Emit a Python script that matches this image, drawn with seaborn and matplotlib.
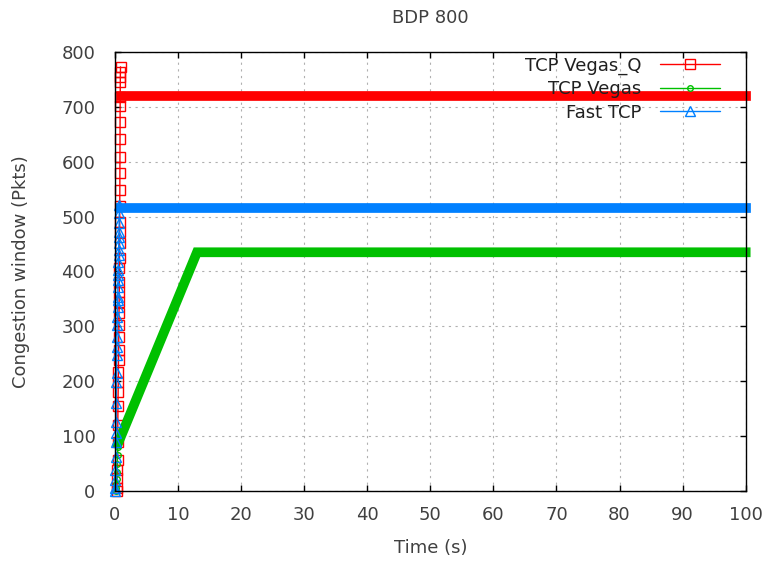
import matplotlib
matplotlib.use("Agg")
import matplotlib.pyplot as plt
import seaborn as sns
import pandas as pd
from matplotlib.lines import Line2D

sns.set_theme(style="ticks")
plt.rcParams["font.family"] = ["DejaVu Sans"]

# --- TCP Vegas_Q: slow-start samples, then steady window ---
vq_start_t = [0.30, 0.32, 0.35, 0.38, 0.40, 0.42, 0.45, 0.47, 0.50, 0.52,
              0.54, 0.56, 0.58, 0.60, 0.62, 0.64, 0.66, 0.68, 0.70, 0.71,
              0.72, 0.73, 0.74, 0.75, 0.76, 0.77, 0.78, 0.79, 0.80, 0.81,
              0.82, 0.83, 0.84, 0.85, 0.86, 0.88]
vq_start_w = [0, 5, 24, 38, 56, 90, 120, 154, 181, 199,
              217, 239, 257, 281, 302, 324, 345, 363, 381, 406,
              424, 451, 472, 490, 520, 548, 579, 609, 642, 673,
              702, 718, 745, 755, 764, 773]
vq_tail_t = [0.95, 100.0]
vq_tail_w = [720, 720]

# --- TCP Vegas ---
vegas_start_t = [0.10, 0.15, 0.20, 0.25, 0.30, 0.35, 0.40, 0.45]
vegas_start_w = [0, 5, 12, 22, 35, 50, 65, 80]
vegas_tail_t = [0.5, 13.0, 100.0]
vegas_tail_w = [87, 435, 435]

# --- Fast TCP ---
fast_start_t = [0.00, 0.02, 0.05, 0.08, 0.10, 0.12, 0.15, 0.18, 0.20, 0.22,
                0.25, 0.28, 0.30, 0.32, 0.35, 0.38, 0.40, 0.42, 0.44, 0.46,
                0.48, 0.50, 0.52, 0.54, 0.56, 0.58, 0.60, 0.62, 0.64, 0.66,
                0.68, 0.70]
fast_start_w = [0, 5, 20, 38, 62, 89, 106, 126, 160, 199,
                215, 248, 262, 281, 302, 317, 335, 348, 353, 372,
                384, 393, 403, 417, 430, 439, 452, 463, 472, 488,
                506, 522]
fast_tail_t = [0.75, 100.0]
fast_tail_w = [516, 516]

labels = ["TCP Vegas_Q", "TCP Vegas", "Fast TCP"]
colors = ["#ff0000", "#00c000", "#0080ff"]
markers = ["s", "o", "^"]
msizes = [6.5, 4, 6.5]

series = [
    (vq_start_t, vq_start_w, vq_tail_t, vq_tail_w),
    (vegas_start_t, vegas_start_w, vegas_tail_t, vegas_tail_w),
    (fast_start_t, fast_start_w, fast_tail_t, fast_tail_w),
]

fig = plt.figure(figsize=(7.64, 5.63), dpi=100)
ax = fig.add_axes([0.1505, 0.128, 0.8255, 0.7796])

for (st, sw, tt, tw), c, m, ms in zip(series, colors, markers, msizes):
    start = pd.DataFrame({"t": st, "w": sw})
    tail = pd.DataFrame({"t": tt, "w": tw})
    # steady-state trace: dense samples render as a thick band
    sns.lineplot(data=tail, x="t", y="w", ax=ax, color=c, linewidth=7,
                 estimator=None, sort=False, clip_on=False,
                 solid_capstyle="projecting", solid_joinstyle="miter")
    # start-up samples with open markers
    sns.lineplot(data=start, x="t", y="w", ax=ax, color=c, linewidth=1,
                 estimator=None, sort=False, clip_on=False,
                 marker=m, markersize=ms, markerfacecolor="none",
                 markeredgecolor=c, markeredgewidth=1.0)

ax.set_xlim(0, 100)
ax.set_ylim(0, 800)
ax.set_xticks(range(0, 101, 10))
ax.set_yticks(range(0, 801, 100))

ax.grid(True, color="#b0b0b0", linestyle=(0, (2, 4)), linewidth=0.8)
ax.set_axisbelow(True)
for s in ax.spines.values():
    s.set_color("black")
    s.set_linewidth(1.0)
ax.tick_params(direction="in", top=True, right=True, length=4, width=1,
               color="black", labelcolor="#404040", labelsize=13)
ax.tick_params(axis="x", pad=11)
ax.tick_params(axis="y", pad=14)

ax.set_xlabel("Time (s)", fontsize=13, color="#404040", labelpad=11)
ax.set_ylabel("Congestion window (Pkts)", fontsize=13, color="#404040", labelpad=23)
ax.set_title("BDP 800", fontsize=13, color="#404040", pad=21)

handles = [Line2D([], [], color=c, linewidth=1, marker=m, markersize=ms,
                  markerfacecolor="none", markeredgecolor=c)
           for c, m, ms in zip(colors, markers, msizes)]
leg = ax.legend(handles, labels, loc="upper right",
                bbox_to_anchor=(0.959, 0.99), frameon=False, markerfirst=False,
                numpoints=1, handlelength=3.3, handletextpad=1.05,
                labelspacing=0.3, borderpad=0, borderaxespad=0,
                fontsize=13, labelcolor="#202020")

fig.savefig("out.png", dpi=100)
